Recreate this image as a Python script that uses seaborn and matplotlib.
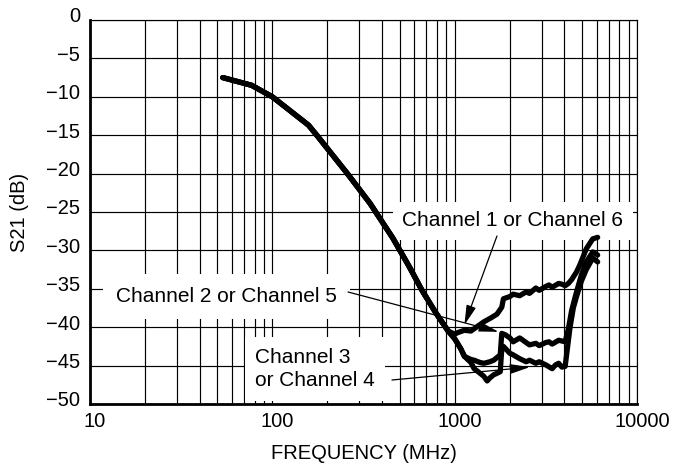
import numpy as np
import pandas as pd
import matplotlib
matplotlib.use("Agg")
import matplotlib.pyplot as plt
import matplotlib.transforms as mtransforms
from matplotlib.ticker import FixedLocator, NullFormatter
import seaborn as sns

# Data (freq in MHz, S21 in dB)
# common part of the three responses (up to ~920 MHz)
common_freq = [53.5, 76.9, 100, 125, 158, 178, 258, 344, 458, 563, 662, 782, 885, 921]
common_s21 = [-7.5, -8.5, -10.0, -11.8, -13.7, -15.2, -20.0, -23.9, -28.4, -32.1, -35.2, -38.0, -39.9, -40.5]

ch1_freq = [1000, 1041, 1131, 1228, 1332, 1446, 1578, 1706, 1813, 1851, 2009, 2093, 2273,
            2467, 2572, 2788, 2908, 3157, 3289, 3425, 3719, 3874, 4036, 4205, 4383, 4661,
            4857, 5269, 5720, 6084]
ch1_s21 = [-40.9, -40.7, -40.4, -40.5, -39.9, -39.3, -38.8, -38.3, -37.4, -36.3, -36.0, -35.7,
           -35.9, -35.4, -35.6, -34.9, -35.2, -34.7, -34.5, -34.8, -34.3, -34.4, -34.6, -34.3,
           -33.8, -32.8, -31.9, -29.8, -28.5, -28.3]

ch2_freq = [1000, 1080, 1131, 1228, 1279, 1379, 1446, 1560, 1637, 1778, 1813, 1900, 2009,
            2093, 2273, 2467, 2572, 2788, 2908, 3157, 3289, 3425, 3719, 4036, 4205, 4383,
            4661, 4955, 5269, 5720, 6084]
ch2_s21 = [-41.5, -42.8, -43.8, -44.2, -44.3, -44.6, -44.7, -44.5, -44.3, -43.6, -40.8, -41.0,
           -41.4, -41.9, -41.4, -42.0, -42.3, -42.1, -42.4, -42.0, -41.9, -42.2, -41.7, -41.9,
           -40.2, -37.8, -35.4, -33.2, -31.5, -30.2, -30.6]

ch3_freq = [1000, 1080, 1131, 1228, 1279, 1379, 1446, 1507, 1560, 1637, 1778, 1813, 1851,
            2009, 2093, 2273, 2467, 2572, 2788, 2908, 3157, 3425, 3580, 3719, 3874, 4036,
            4120, 4294, 4474, 4661, 4955, 5269, 5720, 6084]
ch3_s21 = [-41.5, -42.8, -43.8, -44.6, -45.4, -46.0, -46.4, -47.0, -46.6, -46.2, -45.8, -42.8,
           -42.5, -43.4, -43.6, -44.1, -44.5, -44.3, -44.7, -44.5, -44.9, -45.4, -44.9, -44.7,
           -45.2, -45.1, -43.4, -40.0, -37.5, -36.0, -34.0, -32.5, -31.0, -31.5]

labels = ["Channel 1 or Channel 6", "Channel 2 or Channel 5", "Channel 3\nor Channel 4"]
# arrow tips (freq, dB)
tip_freq = [1131, 1740, 2580]
tip_s21 = [-39.7, -40.6, -45.2]

x_major = [10, 100, 1000, 10000]
x_minor = [m * d for d in [10, 100, 1000] for m in range(2, 10)]
y_ticks = list(range(-50, 1, 5))

sns.set_style("white")
plt.rcParams['font.family'] = ['Liberation Sans', 'DejaVu Sans']
plt.rcParams['text.color'] = 'black'
plt.rcParams['axes.labelcolor'] = 'black'
plt.rcParams['xtick.color'] = 'black'
plt.rcParams['ytick.color'] = 'black'

fig = plt.figure(figsize=(6.77, 4.74), dpi=100)
ax = fig.add_axes([90 / 677, 70 / 474, 547 / 677, 384 / 474])

channels = [(ch1_freq, ch1_s21), (ch2_freq, ch2_s21), (ch3_freq, ch3_s21)]
for f, s in channels:
    df = pd.DataFrame({"freq": common_freq + f, "s21": common_s21 + s})
    sns.lineplot(data=df, x="freq", y="s21", color="black", lw=3.8, sort=False,
                 estimator=None, ax=ax, zorder=4, solid_joinstyle="round")

ax.set_xscale("log")
ax.set_xlim(10, 10000)
ax.set_ylim(-50, 0)
ax.xaxis.set_major_locator(FixedLocator(x_major))
ax.xaxis.set_minor_locator(FixedLocator(x_minor))
ax.xaxis.set_minor_formatter(NullFormatter())
ax.set_xticklabels([str(v) for v in x_major])
ax.set_yticks(y_ticks)

ax.set_axisbelow(True)
ax.grid(True, which="both", axis="x", color="black", lw=0.85)
ax.grid(True, which="major", axis="y", color="black", lw=0.85)

ax.tick_params(axis="both", which="both", length=0, labelsize=14.5, labelcolor="black")
ax.tick_params(axis="x", pad=6)
ax.tick_params(axis="y", pad=7)

for lab in ax.get_yticklabels():
    lab.set_transform(lab.get_transform() + mtransforms.ScaledTranslation(0, 0.05, fig.dpi_scale_trans))
for lab in ax.get_xticklabels():
    lab.set_transform(lab.get_transform() + mtransforms.ScaledTranslation(0.05, 0, fig.dpi_scale_trans))

for side in ["left", "bottom"]:
    ax.spines[side].set_linewidth(2.0)
    ax.spines[side].set_color("black")
for side in ["top", "right"]:
    ax.spines[side].set_linewidth(0.85)
    ax.spines[side].set_color("black")

ax.set_xlabel("FREQUENCY (MHz)", fontsize=14.5, color="black")
ax.set_ylabel("S21 (dB)", fontsize=14.5, color="black")
ax.xaxis.set_label_coords(0.5, -0.105)
ax.yaxis.set_label_coords(-0.112, 0.5)

# labels with white boxes that hide the grid
ax.text(0.773, 0.477, labels[0], transform=ax.transAxes, ha="center", va="center",
        fontsize=15, color="black", zorder=3,
        bbox=dict(boxstyle="square,pad=0.45", fc="white", ec="none"))
ax.text(0.249, 0.281, labels[1], transform=ax.transAxes, ha="center", va="center",
        fontsize=15, color="black", zorder=3,
        bbox=dict(boxstyle="square,pad=0.62", fc="white", ec="none"))
ax.text(0.302, 0.091, labels[2], transform=ax.transAxes, ha="left", va="center",
        fontsize=15, color="black", zorder=3, linespacing=1.3,
        bbox=dict(boxstyle="square,pad=0.5", fc="white", ec="none"))

starts = [(0.744, 0.4375), (0.4717, 0.2917), (0.552, 0.0625)]
for (sx, sy), tf, ts in zip(starts, tip_freq, tip_s21):
    ax.annotate("", xy=(tf, ts), xycoords="data", xytext=(sx, sy), textcoords="axes fraction",
                arrowprops=dict(arrowstyle="-|>,head_length=1.0,head_width=0.25", lw=0.9,
                                color="black", mutation_scale=12, shrinkA=0, shrinkB=0),
                zorder=5)

fig.savefig("out.png", dpi=100)
